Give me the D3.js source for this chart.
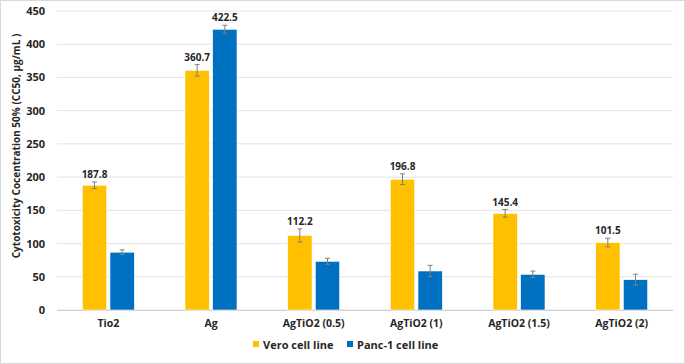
<!DOCTYPE html>
<html>
<head>
<meta charset="utf-8">
<script src="https://cdn.jsdelivr.net/npm/d3@7"></script>
<style>
  body { margin: 0; background: #fff; }
  text { font-family: "Open Sans", "Liberation Sans", sans-serif; font-weight: bold; fill: #262626; }
</style>
</head>
<body>
<svg id="chart" width="685" height="364"></svg>
<script>
const categories = ["Tio2", "Ag", "AgTiO2 (0.5)", "AgTiO2 (1)", "AgTiO2 (1.5)", "AgTiO2 (2)"];
const seriesNames = ["Vero cell line", "Panc-1 cell line"];
const vero = [187.8, 360.7, 112.2, 196.8, 145.4, 101.5];
const panc = [87, 422.5, 73.3, 58.7, 53.7, 45.6];
const veroErr = [5, 8.6, 10, 8, 5.8, 6.5];
const pancErr = [3.5, 6, 4.5, 8.5, 4.8, 8.3];
const yTicks = [0, 50, 100, 150, 200, 250, 300, 350, 400, 450];
const colors = ["#FFC000", "#0070C0"];

const svg = d3.select("#chart");
const width = 685, height = 364;
const margin = {top: 11, right: 12, bottom: 54, left: 57};

svg.append("rect")
  .attr("x", 0.5).attr("y", 0.5)
  .attr("width", width - 1).attr("height", height - 1)
  .attr("fill", "#fff").attr("stroke", "#d9d9d9");

const x0 = d3.scaleBand()
  .domain(categories)
  .range([margin.left, width - margin.right]);

const x1 = d3.scaleBand()
  .domain([0, 1])
  .range([x0.bandwidth() / 2 - 26, x0.bandwidth() / 2 + 26])
  .paddingInner(0.12);

const y = d3.scaleLinear()
  .domain([0, 450])
  .range([height - margin.bottom, margin.top]);

// gridlines
svg.append("g")
  .selectAll("line")
  .data(yTicks)
  .join("line")
  .attr("x1", margin.left).attr("x2", width - margin.right)
  .attr("y1", d => y(d)).attr("y2", d => y(d))
  .attr("stroke", "#e3e3e3").attr("stroke-width", 1);

// y axis labels
svg.append("g")
  .attr("transform", `translate(${margin.left - 12},0)`)
  .call(d3.axisLeft(y).tickValues(yTicks).tickSize(0).tickPadding(0))
  .call(g => g.select(".domain").remove())
  .call(g => g.selectAll("text").attr("font-size", 11).style("font-weight", "bold").attr("fill", "#262626"));

// x axis
svg.append("g")
  .attr("transform", `translate(0,${y(0)})`)
  .call(d3.axisBottom(x0).tickSize(0).tickPadding(10))
  .call(g => g.select(".domain").attr("stroke", "#d0d0d0"))
  .call(g => g.selectAll("text").attr("font-size", 10.5).style("font-weight", "bold").attr("fill", "#262626"));

const rows = categories.map((c, i) => ({
  cat: c,
  vals: [
    {s: 0, v: vero[i], e: veroErr[i]},
    {s: 1, v: panc[i], e: pancErr[i]}
  ]
}));

const groups = svg.append("g")
  .selectAll("g")
  .data(rows)
  .join("g")
  .attr("transform", d => `translate(${x0(d.cat)},0)`);

groups.selectAll("rect")
  .data(d => d.vals)
  .join("rect")
  .attr("x", d => x1(d.s))
  .attr("width", x1.bandwidth())
  .attr("y", d => y(d.v))
  .attr("height", d => y(0) - y(d.v))
  .attr("fill", d => colors[d.s])
  .attr("stroke", "#fff").attr("stroke-width", 0.6);

// error bars
const eb = groups.selectAll(".err")
  .data(d => d.vals)
  .join("g")
  .attr("class", "err")
  .attr("stroke", "#7f7f7f").attr("stroke-width", 1);
eb.append("line")
  .attr("x1", d => x1(d.s) + x1.bandwidth() / 2).attr("x2", d => x1(d.s) + x1.bandwidth() / 2)
  .attr("y1", d => y(d.v + d.e)).attr("y2", d => y(d.v - d.e));
eb.append("line")
  .attr("x1", d => x1(d.s) + x1.bandwidth() / 2 - 2.5).attr("x2", d => x1(d.s) + x1.bandwidth() / 2 + 2.5)
  .attr("y1", d => y(d.v + d.e)).attr("y2", d => y(d.v + d.e));
eb.append("line")
  .attr("x1", d => x1(d.s) + x1.bandwidth() / 2 - 2.5).attr("x2", d => x1(d.s) + x1.bandwidth() / 2 + 2.5)
  .attr("y1", d => y(d.v - d.e)).attr("y2", d => y(d.v - d.e));

// value labels (Vero all, Panc only for Ag)
groups.selectAll(".lbl")
  .data(d => d.vals.filter(v => v.s === 0 || d.cat === "Ag"))
  .join("text")
  .attr("class", "lbl")
  .attr("x", d => x1(d.s) + x1.bandwidth() / 2)
  .attr("y", d => y(d.v + d.e) - 4)
  .attr("text-anchor", "middle")
  .attr("font-size", 10)
  .text(d => d.v.toFixed(1));

// y title
svg.append("text")
  .attr("transform", `translate(20,146) rotate(-90)`)
  .attr("text-anchor", "middle")
  .attr("font-size", 10)
  .text("Cytotoxicity Cocentration 50%  (CC50, µg/mL )");

// legend
const legend = svg.append("g").attr("transform", "translate(253,345)");
const li = legend.selectAll("g")
  .data(seriesNames)
  .join("g")
  .attr("transform", (d, i) => `translate(${i * 94},0)`);
li.append("rect")
  .attr("x", 0).attr("y", -4).attr("width", 6).attr("height", 6)
  .attr("fill", (d, i) => colors[i]);
li.append("text")
  .attr("x", 10).attr("y", 0).attr("dy", "0.35em")
  .attr("font-size", 11)
  .text(d => d);
</script>
</body>
</html>
